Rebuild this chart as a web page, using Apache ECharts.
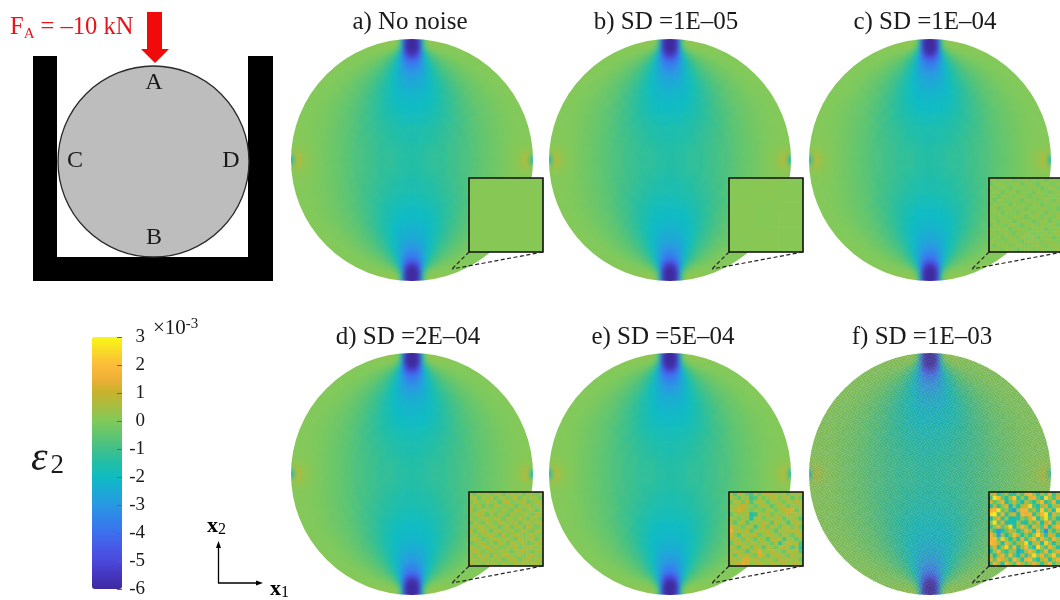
<!DOCTYPE html>
<html><head><meta charset="utf-8">
<style>html,body{margin:0;padding:0;background:#fff}#c{width:1060px;height:600px;filter:blur(0.5px)}</style>
<script src="https://cdn.jsdelivr.net/npm/echarts@6/dist/echarts.min.js"></script>
</head><body><div id="c"></div>
<script>
const panelTitles=['a) No noise','b) SD =1E\u201305','c) SD =1E\u201304','d) SD =2E\u201304','e) SD =5E\u201304','f) SD =1E\u201303'];
const colormap=['#3e2a9e','#4437bf','#4a48dc','#475ae6','#3d6fef','#3183ea','#2a98e2','#1aaad4','#0ebcc2','#22bea6','#40c08a','#60c570','#80c95a','#a5bf42','#c6b22e','#eeb036','#fbbc3a','#f9da28','#f8f914'];
const thetaEdges=[0,1.5,3,4.5,6,8,10,13,16,20,25,30,37,45,55,65,75,82,86,88,90];
const radiusEdges=[0,.15,.3,.4,.5,.58,.65,.7,.75,.8,.84,.87,.9,.92,.94,.96,.98,1,1.05];
const quadrantField=[
[-1.5,-1.5,-1.5,-1.5,-1.5,-1.5,-1.5,-1.5,-1.5,-1.5,-1.5,-1.5,-1.5,-1.48,-1.45,-1.42,-1.42,-1.42,-1.42,-1.42],
[-1.65,-1.65,-1.65,-1.65,-1.65,-1.65,-1.65,-1.65,-1.63,-1.6,-1.57,-1.52,-1.47,-1.4,-1.33,-1.28,-1.25,-1.25,-1.25,-1.25],
[-1.85,-1.85,-1.85,-1.85,-1.85,-1.83,-1.8,-1.78,-1.74,-1.68,-1.6,-1.52,-1.4,-1.27,-1.15,-1.07,-1.03,-1.02,-1.02,-1.02],
[-2.05,-2.05,-2.05,-2.05,-2.03,-2.02,-2,-1.95,-1.88,-1.76,-1.63,-1.48,-1.3,-1.12,-.97,-.87,-.82,-.8,-.8,-.8],
[-2.22,-2.22,-2.22,-2.2,-2.18,-2.16,-2.1,-2.02,-1.9,-1.72,-1.52,-1.32,-1.08,-.9,-.74,-.65,-.6,-.58,-.58,-.58],
[-2.45,-2.45,-2.42,-2.4,-2.36,-2.28,-2.18,-2.02,-1.8,-1.55,-1.3,-1.08,-.85,-.68,-.55,-.47,-.43,-.42,-.42,-.42],
[-2.75,-2.72,-2.68,-2.6,-2.5,-2.35,-2.12,-1.88,-1.6,-1.32,-1.08,-.86,-.66,-.52,-.42,-.35,-.31,-.3,-.3,-.3],
[-3.05,-3,-2.92,-2.8,-2.6,-2.35,-2.02,-1.68,-1.36,-1.08,-.86,-.68,-.52,-.4,-.32,-.25,-.22,-.2,-.2,-.2],
[-3.5,-3.45,-3.3,-3.05,-2.68,-2.25,-1.78,-1.38,-1.05,-.8,-.62,-.48,-.36,-.28,-.22,-.16,-.12,-.1,-.09,-.08],
[-4.05,-3.95,-3.7,-3.2,-2.6,-1.95,-1.4,-1.02,-.74,-.55,-.42,-.32,-.24,-.18,-.14,-.08,-.04,.01,.03,.04],
[-5,-4.8,-4.3,-3.4,-2.4,-1.6,-1.02,-.7,-.48,-.35,-.26,-.2,-.14,-.1,-.08,-.04,0,.04,.08,.1],
[-5.9,-5.6,-4.8,-3.3,-1.9,-1.05,-.65,-.4,-.28,-.2,-.14,-.1,-.08,-.05,-.04,0,.03,.08,.16,.2],
[-6,-5.9,-5.3,-3.1,-1.4,-.6,-.32,-.18,-.12,-.1,-.07,-.05,-.03,-.02,-.02,.02,.04,.1,.28,.36],
[-6,-6,-5.5,-2.8,-.9,-.25,-.08,-.03,-.02,-.02,0,0,0,0,0,.03,.04,.13,.38,.5],
[-6,-6,-5.4,-2.4,-.4,0,.08,.08,.05,.03,.02,.02,.02,.02,.02,.03,.04,.16,.5,.65],
[-6,-6,-5.2,-2,-.1,.15,.15,.12,.08,.05,.04,.03,.03,.03,.03,.03,.04,.15,.55,.6],
[-6,-6,-5,-1.5,.1,.22,.2,.15,.1,.07,.05,.04,.04,.04,.04,.04,.04,.08,.1,-1.6],
[-6,-6,-5,-1.5,.1,.22,.2,.15,.1,.07,.05,.04,.04,.04,.04,.04,.04,.08,.1,-1.6]];
const insetA=[[0.1]];
const insetB=[[0.1,0.12,0.08],[0.12,0.07,0.11],[0.09,0.12,0.1]];
const insetC=[
[.1,.2,-.1,0,.2,.3,-.2,0,.1,.3,-.1,.1,0,.2,-.2,.1,.2,0],[-.2,.1,.3,.1,-.1,0,.2,.3,-.2,.1,.2,0,-.3,.1,.3,0,-.1,.2],
[.2,-.1,0,.3,.1,-.2,.1,0,.2,-.1,.3,.2,.1,-.2,.1,.2,.3,-.1],[0,.3,.2,-.2,0,.2,.3,-.2,.1,.2,0,-.2,.3,.1,0,-.2,.1,.2],
[.3,0,-.2,.1,.3,.1,-.1,.2,.3,0,-.2,.2,.1,.3,-.1,.2,0,.1],[.1,-.2,.2,.3,-.1,0,.2,.1,-.2,.2,.3,.1,-.1,0,.3,.1,-.2,.2],
[-.1,.2,.1,0,.2,-.2,.3,0,.2,.1,-.1,.3,.2,-.2,.1,0,.3,.1],[.2,.3,-.2,.1,.1,.3,-.1,.2,0,-.2,.2,.1,0,.3,.2,-.1,.1,-.2],
[0,.1,.3,-.2,.2,.1,0,-.2,.3,.2,.1,-.1,.3,.1,-.2,.3,.1,.2],[.3,-.1,.1,.2,0,-.1,.2,.3,.1,-.2,0,.3,.2,-.1,.2,.1,-.1,.3],
[.1,.2,-.2,.3,.2,.1,-.2,.1,.2,.3,.1,-.2,0,.2,.3,-.2,.2,0],[-.2,.3,.1,0,-.1,.3,.2,0,-.2,.1,.3,.2,-.1,.3,0,.2,.3,-.1],
[.2,0,.3,.1,.2,-.2,.1,.3,.2,0,-.1,.1,.3,.2,-.2,.1,0,.2],[.3,.1,-.1,.2,.3,0,-.2,.2,.1,.3,.2,-.1,.1,0,.3,-.1,.2,.3],
[-.1,.2,.2,-.2,.1,.3,.2,-.1,.3,.1,0,.3,-.2,.2,.1,.3,-.2,.1],[.2,.3,0,.1,-.1,.2,.3,.1,-.2,.2,.3,0,.2,-.1,.3,.2,.1,0],
[.1,-.2,.3,.2,.3,-.1,.1,.2,.3,-.1,.1,.2,.3,.1,-.1,.2,.3,.2],[.3,.1,.1,-.1,.2,.2,0,-.2,.1,.3,.2,-.1,.1,.3,.2,0,.1,.3]];
const insetD=[
[.2,-.2,.5,.1,.6,-.1,.3,.7,-.3,.2,.6,0,.4,-.2,.5,.3,-.1,.4],[.6,.3,-.3,.5,.2,.7,-.2,.2,.5,-.1,.3,.8,-.2,.4,.1,.6,.2,-.2],
[-.1,.7,.2,0,.8,.1,.4,-.4,.6,.9,-.1,.2,.5,.7,-.2,.1,.7,.3],[.4,.1,.6,-.3,.3,-.2,.8,.3,0,.3,.6,-.3,.1,.3,.9,-.1,.2,.6],
[.8,-.2,.2,.7,.1,.5,.2,-.1,.7,.1,-.2,.5,.8,-.1,.3,.6,-.3,.2],[.1,.5,.9,.2,-.3,.6,-.2,.6,.3,-.3,.7,.3,0,.6,.2,-.2,.8,.4],
[.5,-.1,.3,.6,.5,.1,.7,.2,-.2,.6,.2,-.1,.7,.3,-.2,.7,.3,-.1],[-.3,.6,.1,-.2,.8,.2,-.1,.9,.4,.1,.5,.8,-.2,.4,.6,.1,.5,.7],
[.3,.2,.7,.4,0,.6,.3,-.3,.2,.8,-.2,.3,.6,-.3,.9,.3,-.2,.2],[.7,-.2,.4,.9,.2,-.2,.5,.6,.1,.3,.6,-.1,.2,.7,.1,-.2,.6,.4],
[.1,.5,-.1,.3,.6,.8,.1,-.2,.9,-.1,.3,.7,.5,-.1,.4,.8,.1,0],[.4,.8,.2,-.2,.1,.3,.7,.4,.2,.6,.1,-.2,.9,.3,.2,.5,-.2,.6],
[-.2,.1,.6,.7,-.1,.4,-.3,.8,.3,-.2,.7,.4,.1,.6,-.2,.1,.8,.2],[.6,.3,0,.4,.9,.2,.5,.1,-.1,.5,.2,.9,-.1,.3,.7,.4,.1,.5],
[.2,.9,.4,-.1,.3,.6,.1,.3,.7,.2,-.2,.3,.6,.8,.1,-.2,.6,.3],[.5,-.1,.7,.2,.5,-.2,.8,.2,.4,.9,.3,.1,.4,-.1,.5,.7,.2,-.1],
[.3,.5,.1,.8,.2,.4,.1,.6,-.2,.3,.7,.5,-.2,.4,.9,.1,.4,.6],[.7,.2,.4,.1,.6,.3,.5,-.1,.6,.2,.1,.8,.3,.6,.2,.5,.7,.1]];
const insetE=[
[.3,-.6,.9,.2,-.4,-.8,.5,-.3,.6,.9,.9,.4,.2,.5,-.3,.6,.3,.7],[.8,.1,-.5,.6,.2,-1,-.6,.4,-.2,.3,.7,.8,-.1,.6,.5,-.5,.4,-.2],
[-.3,.6,.5,-.2,.9,-.7,.2,.8,.3,-.4,.2,.5,.3,-.2,.7,.2,.9,.3],[.5,.2,.8,1,.4,.1,-.4,.3,.7,.2,-.5,.1,.8,.4,-.3,.5,.2,.6],
[.2,.9,1.1,1,.3,-.2,.5,.1,-.3,.6,.4,-.2,.3,.9,1,1.1,-.3,.4],[-.4,.3,.6,.2,.7,-1.6,-1.2,.6,.2,.8,-.3,.5,.1,.4,1,.3,.7,.2],
[.6,.2,-.2,.5,.1,-1.4,.3,.7,-.2,.1,.6,.3,.8,-.4,.2,.6,.1,-.6],[.3,-.5,.4,.8,-.6,.2,.5,.1,.9,.4,-.5,.9,.3,.2,-.7,.4,.9,.3],
[1.2,.5,.2,-.3,.6,.4,-.8,.3,.9,-.2,.7,.2,-.3,.8,.4,-.2,.6,-.4],[1.5,.3,.8,.4,.9,-.4,.2,.6,.4,1,.1,-.5,.6,.2,.9,.5,1,.2],
[1.2,.1,-.6,.6,.2,.7,.9,-.3,.2,.5,.8,.3,-.2,.7,.1,-.3,.4,.8],[.4,.8,.3,-.2,.9,.2,-.4,.7,.3,-.6,.4,.9,.5,-.8,.6,.2,-.5,.3],
[-.3,.5,.9,.4,.1,.6,.3,.1,.8,.2,-.3,.6,-1.1,.2,.8,.5,.9,-.9],[.7,.2,-.4,.8,.5,-.2,.9,.4,-.5,.7,.3,-.2,.4,.9,.3,-.6,.2,-1.2],
[.2,.9,.5,.2,-.5,.4,.6,1.3,.2,.3,.9,.5,.1,-.4,.7,.4,.8,-.8],[.5,-.3,.7,.4,.9,.1,-.2,1.2,.7,-.4,.2,.8,.6,.3,-.2,.9,.1,.5],
[.9,.4,.2,1.2,1.2,.5,.8,.3,.1,.6,.4,-.2,.9,.5,.7,.2,.6,-.3],[.3,.8,1,1.3,1.1,.2,.4,.9,.5,.2,.8,.6,.3,.9,.2,.5,.8,.4]];
const insetF=[
[.2,1.2,-1.5,-.5,.8,-1.2,-1.6,.5,-.8,1.5,1.8,.2,-1.2,.4,-.6,1.5,-1.2,.6],[-.8,2.6,1.8,-.4,-1.5,.6,2.2,-1.4,.2,-1.2,1.4,1.6,-.6,-1.5,2.4,.4,-.8,1.2],
[1.2,-.6,.4,1.6,-1.6,-.4,1.2,-.5,-1.8,.8,-.3,-1.4,.6,1.8,-1.2,-.5,1.6,-1.4],[-1.4,.8,-1.2,.3,1.4,-2.2,.2,-1.6,.6,1.2,2.4,-.8,-1.6,.4,1.2,-1.4,.2,.8],
[1.6,1.8,2.6,-.5,.6,-1.4,-2.8,.4,1.6,1.7,-.4,.8,-1.3,2.2,-.6,.9,-1.6,2.4],[2.4,2.8,-.8,1.5,-1.3,.7,1.2,-1.5,1.7,1.5,1.6,-1.2,.5,1.8,2.6,-1.4,1.3,.2],
[-1.6,.6,1.4,-1.2,.3,-1.8,-1.6,-1.4,.4,-.6,1.3,2.2,-1.5,.2,2.4,-.8,.4,-1.5],[.4,2.6,-.7,1.3,-1.6,-1.5,-1.8,.7,-1.2,-1.8,.5,-.6,1.2,-1.6,.8,1.5,-1.4,.7],
[-1.2,.2,1.5,-.6,.8,2.5,-1.6,.2,1.7,.6,-1.4,1.3,.2,-.8,1.5,-1.5,.6,1.6],[.6,-1.3,-3,-1.4,-.5,1.2,.3,-1.5,-.4,1.6,.8,-1.6,1.8,-.5,-3.2,.3,-1.2,.4],
[1.7,.5,-2.6,.8,-1.6,-.3,1.8,.6,-1.6,.2,-1.1,.4,2.4,.9,-1.4,1.2,.8,-1.6],[1.6,1.8,-.4,2.2,.3,-1.5,.6,-1.4,1.5,-.9,.5,1.7,-.8,1.5,.2,-.7,1.6,.5],
[2,1.6,.5,-1.6,1.4,.2,-1.2,.8,.3,2.4,-1.5,.4,1.1,-1.5,2.3,.6,-1.5,.3],[-.4,1.4,-1.5,.6,2.3,-.7,1.6,-1.6,.6,1.7,-.5,-1.7,2.4,.3,-.8,1.5,.5,-1.4],
[-1.6,.3,1.7,-.5,-1.3,.5,.2,-2.4,-1.5,.4,1.6,.6,-1.4,-.4,1.6,-1.3,.2,1.4],[.6,-1.5,.8,1.5,-.7,1.7,-.6,-2,.9,-1.2,.5,2.4,.3,1.5,-.6,.4,2.2,-.6],
[1.4,-.5,1.6,1.2,.3,-1.2,1.8,.4,-1.6,1.5,1.7,-.5,-1.5,.6,1.3,-1.4,.5,1.6],[-.8,1.6,.4,-1.5,1.7,.5,-.6,1.5,.8,-.5,.3,1.5,.6,-1.2,.5,1.7,-.7,.3]];
const insetData=[insetA,insetB,insetC,insetD,insetE,insetF];
const speckleTile=[
[0,2,1,1,0,2,0,0,1,2,2,0,1,0,2,1],[1,0,0,2,1,0,1,2,0,0,1,2,0,1,1,0],[2,1,2,0,0,1,2,1,0,2,0,0,2,2,0,1],[0,0,1,1,2,0,0,2,1,1,0,2,1,0,1,2],
[1,2,0,0,1,2,1,0,2,0,1,1,0,2,0,0],[2,0,1,2,0,0,2,1,1,0,2,0,1,1,2,1],[0,1,2,0,2,1,0,0,2,1,0,1,2,0,0,2],[1,0,0,1,1,0,2,2,0,2,1,0,0,2,1,0],
[2,2,1,0,0,2,1,0,1,0,2,2,1,0,0,1],[0,1,0,2,1,0,0,2,2,1,0,1,0,1,2,0],[1,0,2,1,0,1,2,0,0,1,2,0,2,0,1,2],[0,2,0,0,2,2,0,1,1,0,0,2,1,1,0,0],
[2,1,1,2,0,0,1,0,2,2,1,0,0,2,1,2],[0,0,2,0,1,2,0,1,0,1,2,1,2,0,0,1],[1,2,0,1,2,0,2,2,1,0,0,2,0,1,2,0],[2,0,1,0,0,1,1,0,2,1,2,0,1,2,0,1]];

/* layout */
const discX=[412,670,930,412,670,930], discY=[160,160,160,474,474,474], discR=121, discOver=1.05;
const insetX=[469,729,989,469,729,989], insetY=[178,178,178,492,492,492], insetW=74;
const titleX=[410,666,925,408,663,922], titleY=[22,22,22,337,337,337];

function expand(){
  const out=[];
  quadrantField.forEach((row,i)=>row.forEach((v,j)=>{
    const r0=radiusEdges[i],r1=radiusEdges[i+1],a0=thetaEdges[j],a1=thetaEdges[j+1];
    out.push([r0,r1,a0,a1,v],[r0,r1,180-a1,180-a0,v],[r0,r1,180+a0,180+a1,v],[r0,r1,360-a1,360-a0,v]);
  }));
  return out;
}
const field=expand();
function renderCell(params,api){
  const r0=api.value(0),r1=api.value(1),a0=api.value(2),a1=api.value(3);
  const n=Math.max(1,Math.ceil((a1-a0)/2)),pts=[];
  for(let k=0;k<=n;k++)pts.push(api.coord([r1,a0+(a1-a0)*k/n]));
  for(let k=n;k>=0;k--)pts.push(api.coord([r0,a0+(a1-a0)*k/n]));
  const c=api.visual('color');
  return {type:'polygon',shape:{points:pts},style:{fill:c,stroke:c,lineWidth:0.8}};
}
const tile=document.createElement('canvas');tile.width=tile.height=16;
(function(){const g=tile.getContext('2d');const cols=['rgba(125,125,115,0.24)','rgba(225,215,90,0.17)','rgba(70,100,170,0.17)'];
 speckleTile.forEach((row,y)=>row.forEach((v,x)=>{g.fillStyle=cols[v];g.fillRect(x,y,1,1);}));})();

const polar=[],angleAxis=[],radiusAxis=[],series=[],grid=[],xAxis=[],yAxis=[],graphic=[];
const serif='"Liberation Serif","Times New Roman",serif';
panelTitles.forEach((t,i)=>{
  polar.push({center:[discX[i],discY[i]],radius:[0,discR*discOver]});
  angleAxis.push({polarIndex:i,min:0,max:360,startAngle:90,show:false});
  radiusAxis.push({polarIndex:i,min:0,max:discOver,show:false});
  series.push({type:'custom',coordinateSystem:'polar',polarIndex:i,data:field,zlevel:-1,
    encode:{radius:0,angle:2},renderItem:renderCell,silent:true,z:2,animation:false});
  graphic.push({type:'circle',z:4,shape:{cx:discX[i],cy:discY[i],r:discR+7},style:{fill:'none',stroke:'#fff',lineWidth:14}});
  graphic.push({type:'text',x:titleX[i],y:titleY[i],z:50,style:{text:t,font:'25px '+serif,fill:'#1a1a1a',align:'center',verticalAlign:'middle'}});
});
/* speckled overlay of panel f */
series.push({type:'custom',coordinateSystem:'polar',polarIndex:5,data:[[1,0]],encode:{radius:0,angle:1},silent:true,z:3,animation:false,
  renderItem(p,api){const pts=[];for(let a=0;a<360;a+=2)pts.push(api.coord([1,a]));
    return {type:'polygon',shape:{points:pts},style:{fill:{image:tile,repeat:'repeat'}}};}});
const insetSeries=[];
insetData.forEach((m,i)=>{
  const n=m.length;
  grid.push({left:insetX[i],top:insetY[i],width:insetW,height:insetW});
  const cats=m.map((_,k)=>k);
  xAxis.push({type:'category',gridIndex:i,data:cats,show:false});
  yAxis.push({type:'category',gridIndex:i,data:cats,show:false});
  const d=[];m.forEach((row,y)=>row.forEach((v,x)=>d.push([x,n-1-y,v])));
  insetSeries.push(series.length);
  series.push({type:'heatmap',xAxisIndex:i,yAxisIndex:i,data:d,z:5,silent:true,animation:false,progressive:0,itemStyle:{borderWidth:0}});
  graphic.push({type:'rect',z:60,shape:{x:insetX[i],y:insetY[i],width:insetW,height:insetW},style:{fill:'none',stroke:'#111',lineWidth:1.6}});
  const tipX=insetX[i]-17,tipY=insetY[i]+insetW+17;
  graphic.push({type:'line',z:60,shape:{x1:insetX[i],y1:insetY[i]+insetW,x2:tipX,y2:tipY},style:{stroke:'#222',lineWidth:1.2,lineDash:[4,2.5]}});
  graphic.push({type:'line',z:60,shape:{x1:insetX[i]+insetW,y1:insetY[i]+insetW,x2:tipX,y2:tipY},style:{stroke:'#222',lineWidth:1.2,lineDash:[4,2.5]}});
});
/* colour-bar axis */
grid.push({left:92,top:337,width:30,height:252});
xAxis.push({type:'value',gridIndex:6,min:0,max:1,show:false});
yAxis.push({type:'value',gridIndex:6,min:-6,max:3,interval:1,position:'right',z:10,
  axisLine:{show:false,onZero:false},splitLine:{show:false},
  axisTick:{show:true,inside:true,length:5,lineStyle:{color:'#666',width:1}},
  axisLabel:{color:'#1a1a1a',fontFamily:'Liberation Serif',fontSize:19,margin:23,align:'right',formatter:v=>String(v)}});
series.push({type:'scatter',xAxisIndex:6,yAxisIndex:6,data:[],silent:true});

const g=graphic;
/* load schematic */
[[33,56,24,225],[248,56,25,225],[33,257,240,24]].forEach(b=>g.push({type:'rect',z:10,shape:{x:b[0],y:b[1],width:b[2],height:b[3]},style:{fill:'#000'}}));
g.push({type:'circle',z:11,shape:{cx:153.5,cy:161.5,r:95.5},style:{fill:'#bdbdbd',stroke:'#2a2a2a',lineWidth:1.3}});
g.push({type:'polygon',z:12,shape:{points:[[147,12],[162,12],[162,49],[169,49],[155,63],[141,49],[147,49]]},style:{fill:'#f00a0a'}});
g.push({type:'text',z:12,x:10,y:28,style:{rich:{a:{font:'24.5px '+serif,fill:'#e8141c'},s:{font:'15px '+serif,fill:'#e8141c',padding:[13,0,0,0]}},text:'{a|F}{s|A}{a| = \u201310 kN}',verticalAlign:'middle'}});
[['A',154,83],['B',154,238],['C',75,161],['D',231,161]].forEach(l=>g.push({type:'text',z:12,x:l[1],y:l[2],style:{text:l[0],font:'24px '+serif,fill:'#1a1a1a',align:'center',verticalAlign:'middle'}}));
/* colour-bar and axes annotations */
g.push({type:'text',z:12,x:153,y:328,style:{rich:{a:{font:'21px '+serif,fill:'#1a1a1a'},s:{font:'15px '+serif,fill:'#1a1a1a',padding:[0,0,7,0]}},text:'{a|\u00d710}{s|-3}',verticalAlign:'middle'}});
g.push({type:'text',z:12,x:31,y:459,style:{rich:{a:{font:'italic 42px '+serif,fill:'#1a1a1a'},s:{font:'27px '+serif,fill:'#1a1a1a',padding:[14,0,0,3]}},text:'{a|\u03b5}{s|2}',verticalAlign:'middle'}});
g.push({type:'polyline',z:12,shape:{points:[[218.5,546],[218.5,583],[258,583]]},style:{fill:'none',stroke:'#000',lineWidth:1.3}});
g.push({type:'polygon',z:12,shape:{points:[[218.5,541],[216,548],[221,548]]},style:{fill:'#000'}});
g.push({type:'polygon',z:12,shape:{points:[[263,583],[256,580.5],[256,585.5]]},style:{fill:'#000'}});
g.push({type:'text',z:12,x:207,y:526,style:{rich:{a:{font:'bold 22px '+serif,fill:'#000'},s:{font:'16px '+serif,fill:'#000',padding:[8,0,0,0]}},text:'{a|x}{s|2}',verticalAlign:'middle'}});
g.push({type:'text',z:12,x:270,y:589,style:{rich:{a:{font:'bold 22px '+serif,fill:'#000'},s:{font:'16px '+serif,fill:'#000',padding:[8,0,0,0]}},text:'{a|x}{s|1}',verticalAlign:'middle'}});

const option={animation:false,backgroundColor:'transparent',polar,angleAxis,radiusAxis,grid,xAxis,yAxis,series,
  graphic:{elements:graphic},
  visualMap:[
   {type:'continuous',min:-6,max:3,dimension:4,seriesIndex:[0,1,2,3,4,5],inRange:{color:colormap},left:92,top:337,padding:0,itemWidth:30,itemHeight:252,calculable:false,showLabel:false,hoverLink:false,realtime:false,borderWidth:0,textStyle:{fontSize:0,color:'transparent'},formatter:()=>''},
   {type:'continuous',min:-6,max:3,dimension:2,seriesIndex:insetSeries,inRange:{color:colormap},show:false}
  ]};
const chart=echarts.init(document.getElementById('c'),null,{renderer:'canvas',width:1060,height:600});
chart.setOption(option);
/* the measured field is a coarse table: soften its layer as the source picture is smooth */
const zr=chart.getZr();
zr.flush&&zr.flush();
const layer=zr.painter.getLayer(-1);
if(layer&&layer.dom)layer.dom.style.filter='blur(2.2px)';
</script></body></html>
